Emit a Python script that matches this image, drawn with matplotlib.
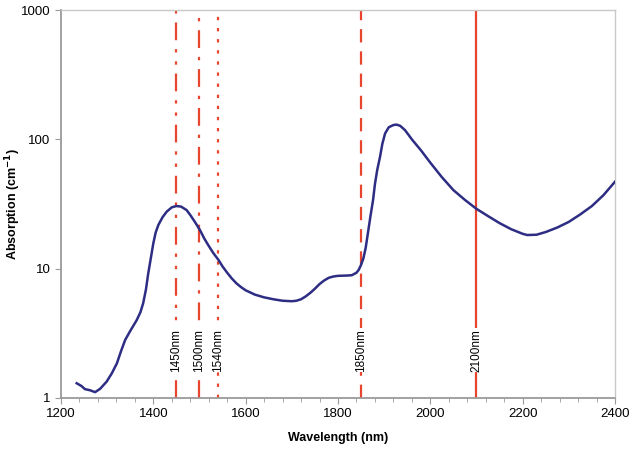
import numpy as np
import matplotlib.pyplot as plt
from matplotlib.ticker import FixedLocator, NullLocator

plt.rcParams['font.family'] = ['Liberation Sans', 'DejaVu Sans']
plt.rcParams['mathtext.default'] = 'bf'

# absorption spectrum
wavelength = [1234, 1244, 1252, 1262, 1274, 1285, 1299, 1310, 1321, 1330, 1339, 1350,
              1364, 1372, 1378, 1384, 1389, 1395, 1400, 1405, 1411, 1420, 1429, 1440,
              1450, 1460, 1472, 1480, 1490, 1501, 1510, 1520, 1530, 1541, 1550, 1560,
              1570, 1580, 1590, 1600, 1620, 1640, 1660, 1680, 1700, 1710, 1720, 1730,
              1740, 1750, 1760, 1770, 1780, 1790, 1800, 1820, 1830, 1840, 1845, 1850,
              1855, 1860, 1865, 1870, 1876, 1880, 1885, 1891, 1896, 1902, 1910, 1920,
              1927, 1935, 1945, 1960, 1980, 2000, 2025, 2050, 2075, 2100, 2125, 2150,
              2175, 2200, 2210, 2230, 2250, 2275, 2300, 2325, 2350, 2375, 2400]
absorption = [1.30, 1.24, 1.17, 1.15, 1.11, 1.18, 1.34, 1.55, 1.85, 2.3, 2.81, 3.3,
              4.0, 4.6, 5.4, 6.9, 9.2, 12.3, 15.7, 19.0, 21.8, 25.0, 27.6, 29.8,
              30.5, 30.2, 28.4, 26.0, 23.0, 19.9, 17.2, 15.0, 13.2, 11.7, 10.4, 9.3,
              8.4, 7.7, 7.2, 6.8, 6.3, 6.0, 5.8, 5.65, 5.6, 5.65, 5.8, 6.1,
              6.5, 7.0, 7.6, 8.1, 8.5, 8.7, 8.8, 8.85, 8.9, 9.3, 9.8, 10.7,
              12.0, 14.5, 19.0, 25.0, 34.0, 45.0, 58.0, 73.0, 92.0, 111.0, 124.0, 129.0,
              130.0, 127.0, 118.0, 100.0, 82.0, 66.0, 51.0, 40.5, 34.0, 29.0, 25.5, 22.5,
              20.2, 18.6, 18.2, 18.3, 19.2, 20.8, 23.0, 26.3, 30.5, 37.0, 47.0]

marker_nm = [1450, 1500, 1540, 1850, 2100]
marker_labels = ['1450nm', '1500nm', '1540nm', '1850nm', '2100nm']
marker_styles = [(0, (8, 4, 1.5, 4, 1.5, 4)), (0, (8, 4, 1.5, 4)), (0, (1.5, 3.5)),
                 (0, (6, 4)), '-']

fig = plt.figure(figsize=(6.34, 4.49), dpi=100)
ax = fig.add_axes([0.0962, 0.1136, 0.8738, 0.8641])

red = '#e8452f'
for nm, lab, ls in zip(marker_nm, marker_labels, marker_styles):
    ax.axvline(nm, color=red, lw=1.6, ls=ls, zorder=1)
    ax.text(nm, 1.6, lab, rotation=90, ha='center', va='bottom', fontsize=8.5,
            bbox=dict(facecolor='white', edgecolor='none', pad=0.5), zorder=2)

ax.plot(wavelength, absorption, color='#2e2d84', lw=1.8, zorder=3)

ax.set_yscale('log')
ax.set_xlim(1200, 2400)
ax.set_ylim(1, 1000)
ax.set_xticks(np.arange(1200, 2401, 200))
ax.xaxis.set_minor_locator(FixedLocator(np.arange(1200, 2401, 40)))
ax.set_yticks([1, 10, 100, 1000])
ax.set_yticklabels(['1', '10', '100', '1000'])
ax.yaxis.set_minor_locator(NullLocator())

for side in ['left', 'bottom']:
    ax.spines[side].set_color('#9a9a9a')
    ax.spines[side].set_linewidth(1.3)
for side in ['top', 'right']:
    ax.spines[side].set_color('#c8c8c8')
    ax.spines[side].set_linewidth(1.0)

ax.tick_params(axis='both', which='major', length=4, color='#9a9a9a', labelsize=9.5)
ax.tick_params(axis='x', which='minor', length=3, color='#9a9a9a')

ax.set_xlabel('Wavelength (nm)', fontsize=9, fontweight='bold', labelpad=8)
ax.set_ylabel('Absorption (cm$^{-1}$)', fontsize=9, fontweight='bold')
ax.yaxis.set_label_coords(-0.068, 0.5)

fig.savefig('out.png', dpi=100)
